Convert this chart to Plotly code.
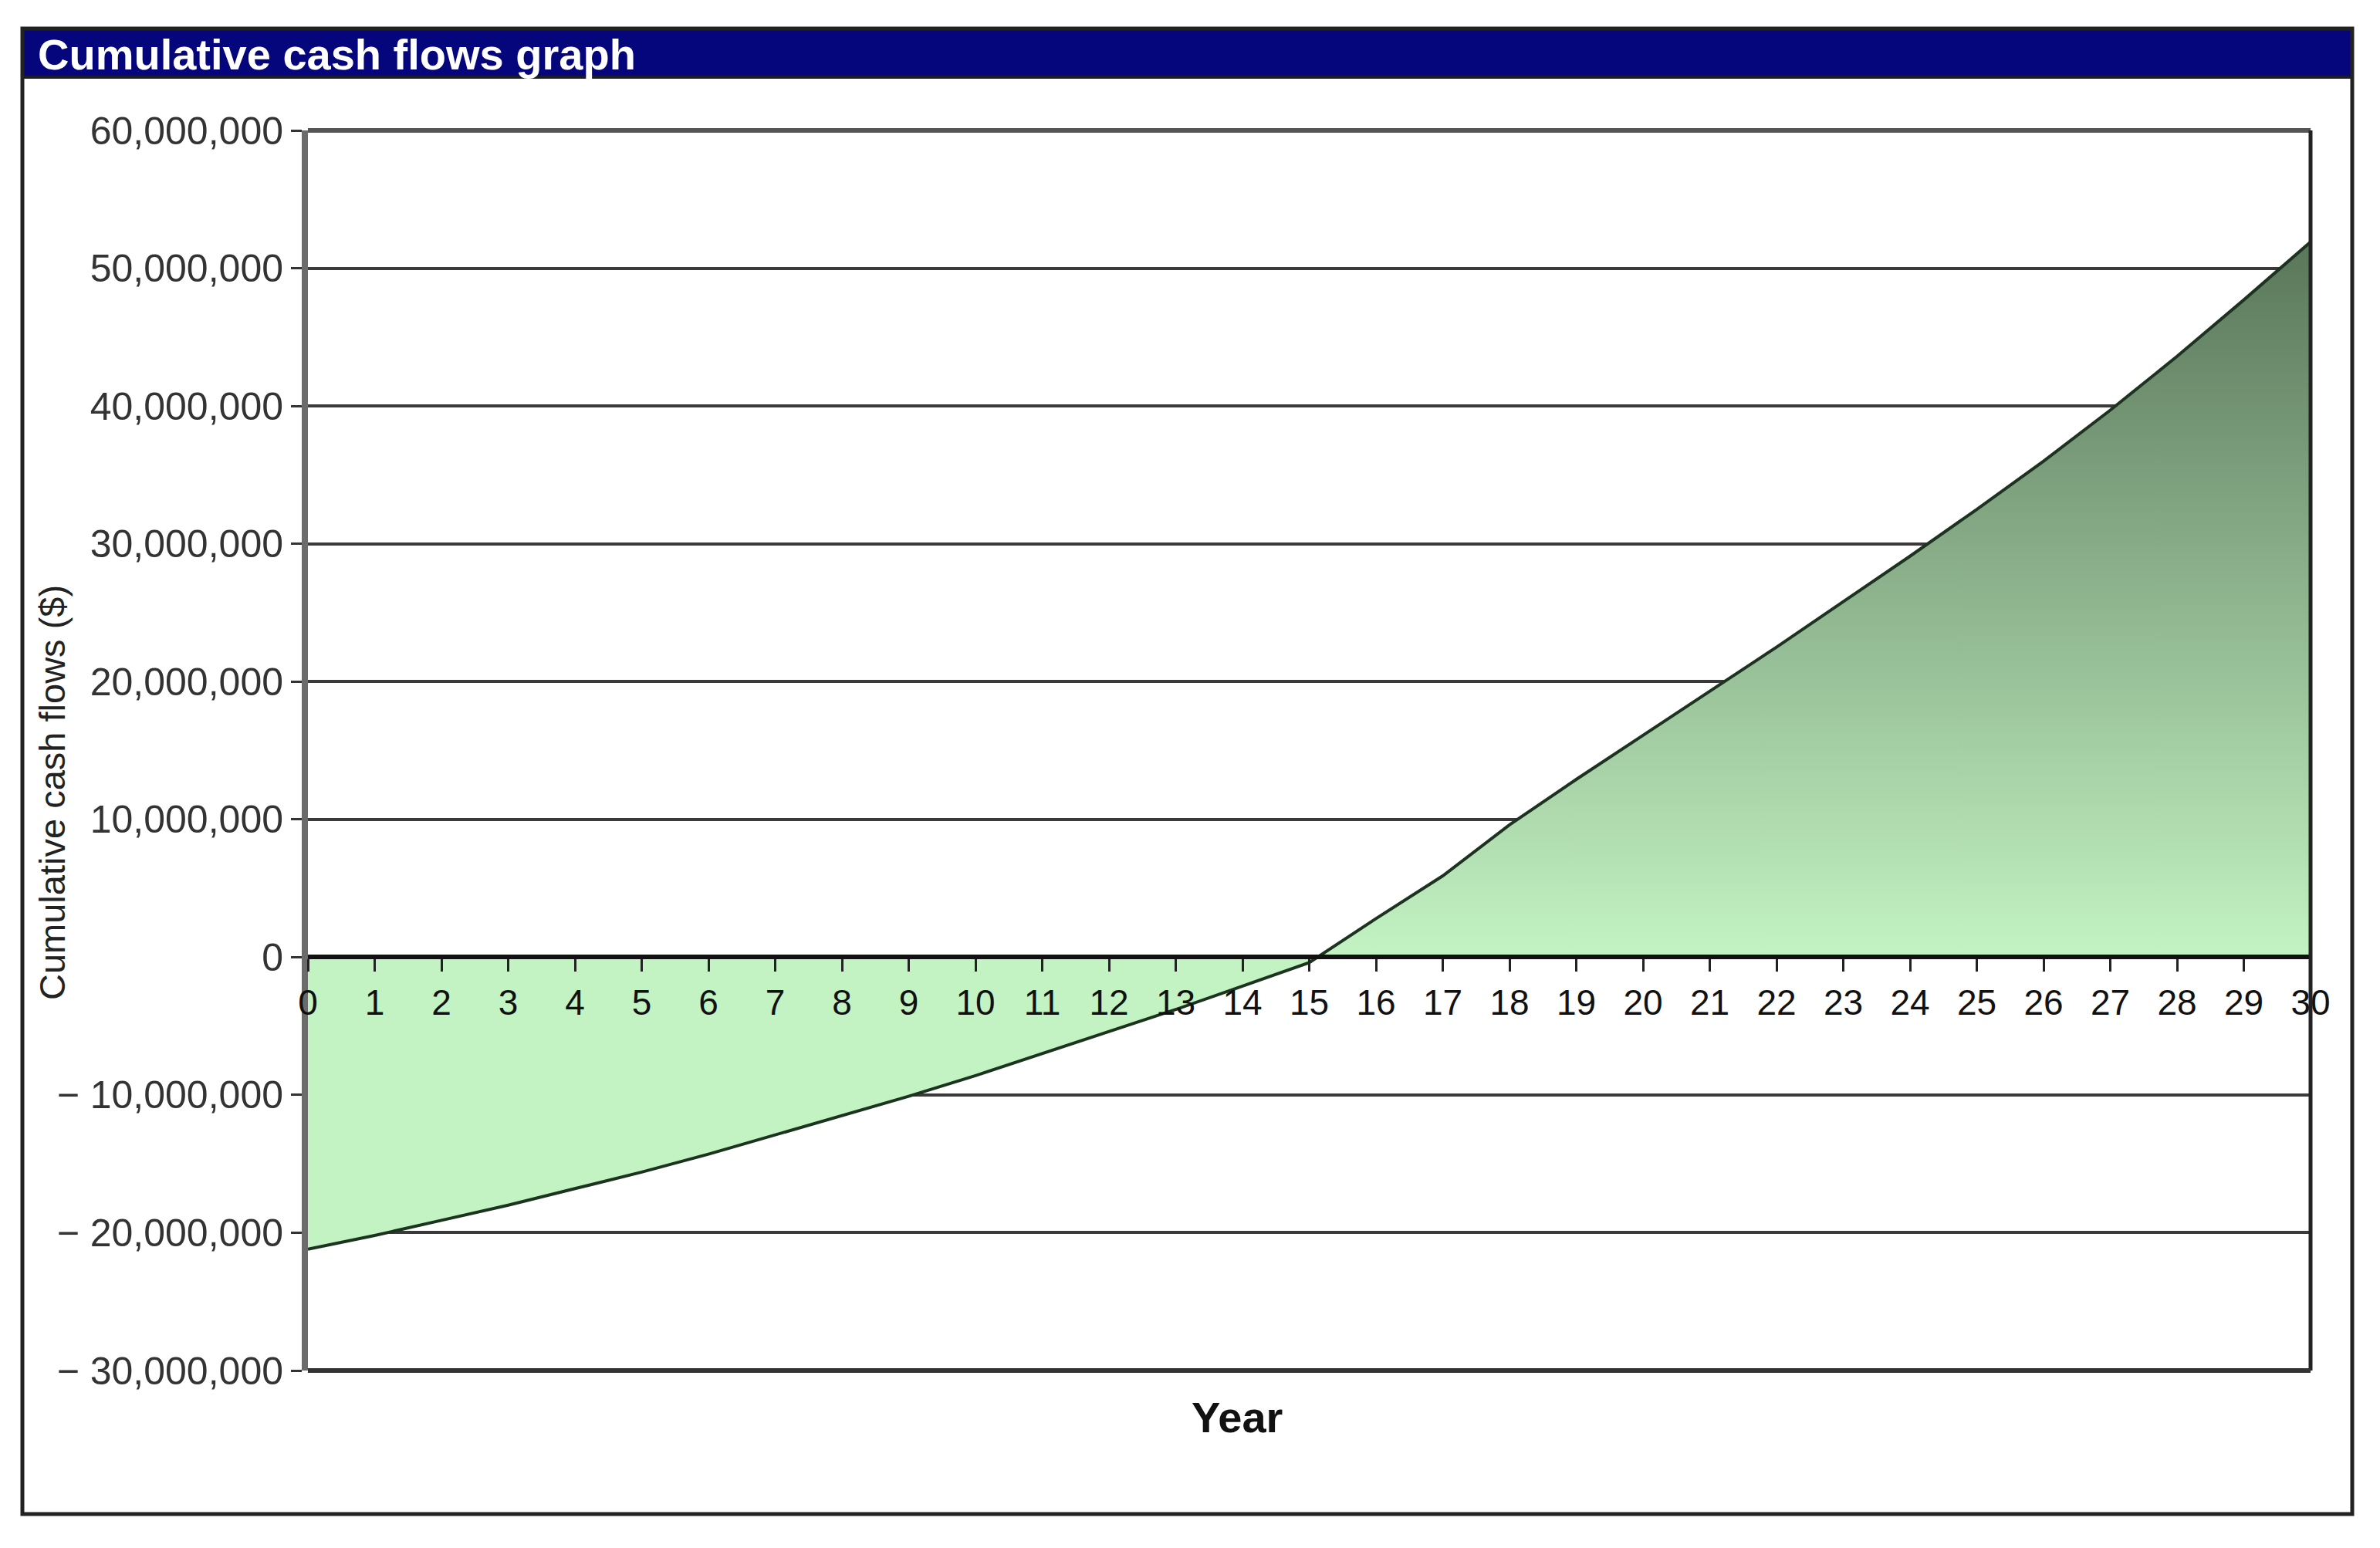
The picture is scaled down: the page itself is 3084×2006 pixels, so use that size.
import plotly.graph_objects as go

# ---------------- data ----------------
years = list(range(0, 31))
cumulative_musd = [-21.2, -20.2, -19.1, -18.0, -16.8, -15.6, -14.3, -12.9, -11.5, -10.1,
                   -8.6, -7.0, -5.4, -3.8, -2.1, -0.4, 2.8, 5.9, 9.6, 12.9,
                   16.1, 19.3, 22.5, 25.8, 29.1, 32.5, 36.0, 39.7, 43.6, 47.7, 51.9]
cumulative = [v * 1e6 for v in cumulative_musd]

y_tick_vals = [-30e6, -20e6, -10e6, 0, 10e6, 20e6, 30e6, 40e6, 50e6, 60e6]
y_tick_text = ["\u2212 30,000,000", "\u2212 20,000,000", "\u2212 10,000,000", "0",
               "10,000,000", "20,000,000", "30,000,000", "40,000,000",
               "50,000,000", "60,000,000"]
x_tick_vals = years
x_tick_text = [str(y) for y in years]

title_text = "Cumulative cash flows graph"
y_title = "Cumulative cash flows ($)"
x_title = "Year"

# ---------------- geometry (screen pixels) ----------------
W, H = 3084, 2006
OFF = 8  # default page body margin
L, R, T, B = 399, 2994, 169, 1776


def px_x(x):
    return (x - L) / (R - L)


def px_y(y):
    return (B - y) / (B - T)


FONT = "Liberation Sans, Arial, sans-serif"

fig = go.Figure()
fig.add_trace(go.Scatter(
    x=years, y=cumulative, mode="lines",
    line=dict(color="#1c331f", width=4),
    fill="tozeroy",
    fillgradient=dict(type="vertical", start=0, stop=52e6,
                      colorscale=[[0, "#c3f3c3"], [1, "#5a765a"]]),
    hoverinfo="x+y", showlegend=False,
))

fig.update_layout(
    width=W, height=H,
    margin=dict(l=L - OFF, r=W + OFF - R, t=T - OFF, b=H + OFF - B, pad=0),
    paper_bgcolor="white", plot_bgcolor="white",
    showlegend=False,
    xaxis=dict(
        range=[0, 30], anchor="free", position=1 / 3,
        tickvals=x_tick_vals, ticktext=x_tick_text,
        ticks="outside", ticklen=16, tickwidth=3, tickcolor="#222",
        showline=True, linecolor="#111", linewidth=6,
        showgrid=False, zeroline=False,
        tickfont=dict(family=FONT, size=46, color="#111"),
        ticklabelstandoff=0,
    ),
    yaxis=dict(
        range=[-30e6, 60e6],
        tickvals=y_tick_vals, ticktext=y_tick_text,
        ticks="outside", ticklen=14, tickwidth=3, tickcolor="#333",
        showline=True, linecolor="#6b6b6b", linewidth=8,
        showgrid=True, gridcolor="#3a3a3a", gridwidth=4,
        zeroline=False,
        tickfont=dict(family=FONT, size=50, color="#333"),
    ),
)

shapes = []
# title bar
shapes.append(dict(type="rect", xref="paper", yref="paper",
                   x0=px_x(29), x1=px_x(3048), y0=px_y(100), y1=px_y(37),
                   fillcolor="#06067c", line=dict(width=0), layer="above"))
shapes.append(dict(type="line", xref="paper", yref="paper",
                   x0=px_x(29), x1=px_x(3048), y0=px_y(100), y1=px_y(100),
                   line=dict(color="#1a1a2a", width=4)))
# outer frame
shapes.append(dict(type="rect", xref="paper", yref="paper",
                   x0=px_x(29), x1=px_x(3048), y0=px_y(1962), y1=px_y(37),
                   line=dict(color="#222", width=5)))
# plot border (top, right, bottom)
shapes.append(dict(type="line", xref="paper", yref="paper",
                   x0=0, x1=1, y0=1, y1=1, line=dict(color="#555", width=6)))
shapes.append(dict(type="line", xref="paper", yref="paper",
                   x0=1, x1=1, y0=0, y1=1, line=dict(color="#222", width=5)))
shapes.append(dict(type="line", xref="paper", yref="paper",
                   x0=0, x1=1, y0=0, y1=0, line=dict(color="#333", width=6)))
fig.update_layout(shapes=shapes)

fig.add_annotation(text=f"<b>{title_text}</b>", xref="paper", yref="paper",
                   x=px_x(47), y=px_y(70), xanchor="left", yanchor="middle",
                   showarrow=False, font=dict(family=FONT, size=56, color="white"))
fig.add_annotation(text=y_title, xref="paper", yref="paper",
                   x=px_x(67), y=px_y(1027), xanchor="center", yanchor="middle",
                   textangle=-90, showarrow=False,
                   font=dict(family=FONT, size=47, color="#222"))
fig.add_annotation(text=f"<b>{x_title}</b>", xref="paper", yref="paper",
                   x=px_x(1603), y=px_y(1837), xanchor="center", yanchor="middle",
                   showarrow=False, font=dict(family=FONT, size=56, color="#111"))

fig.write_html("out.html")
